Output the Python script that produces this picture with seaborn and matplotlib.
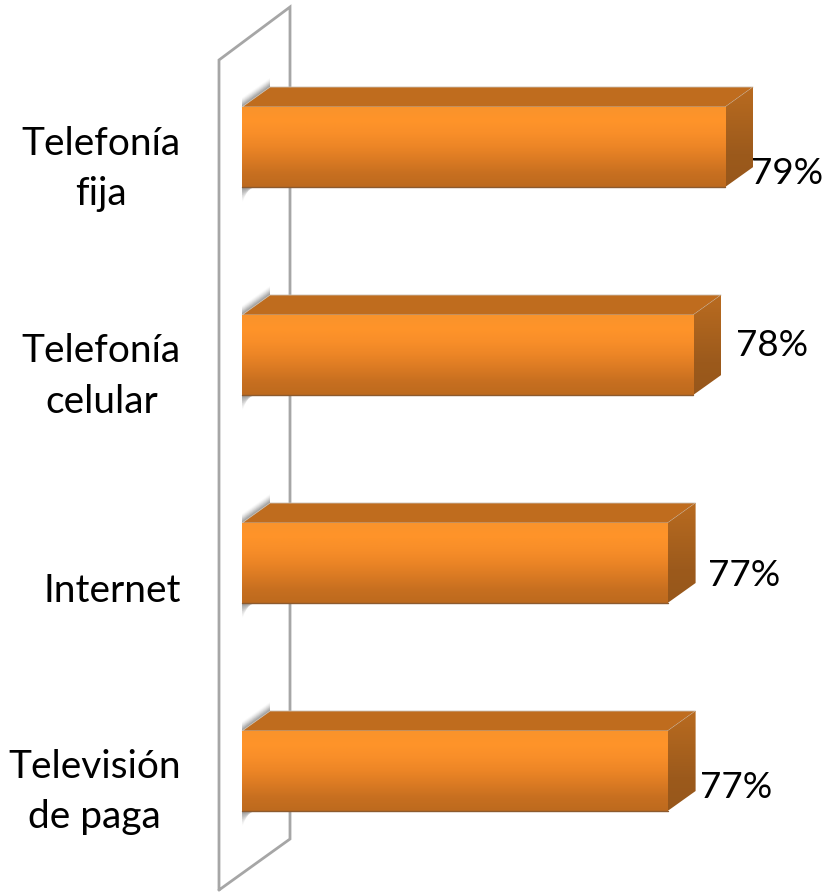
import numpy as np
import pandas as pd
import matplotlib
matplotlib.use("Agg")
import matplotlib.pyplot as plt
import seaborn as sns
from matplotlib.colors import LinearSegmentedColormap
from matplotlib.lines import Line2D
from matplotlib.patches import Polygon
from matplotlib.transforms import Affine2D

categories = ["Telefonía\nfija", "Telefonía\ncelular", "Internet", "Televisión\nde paga"]
values = [79.0, 78.0, 77.2, 77.2]
value_labels = ["79%", "78%", "77%", "77%"]

W, H = 825, 892
sns.set_theme(style="white")
plt.rcParams["font.family"] = ["Lato", "DejaVu Sans"]

fig = plt.figure(figsize=(W / 100, H / 100), dpi=100, facecolor="white")
ax = fig.add_axes([242 / W, 0, (W - 242) / W, 1], facecolor="none", zorder=2)

df = pd.DataFrame({"servicio": categories, "valor": values})
sns.barplot(data=df, x="valor", y="servicio", order=categories, orient="h",
            width=80 / 208, color="#F48A28", saturation=1, linewidth=0, ax=ax)

PX_X = 32.0            # pixels per percentage point
PX_Y = 208.0           # pixels per category step
XMIN = 63.9
ax.set_xlim(XMIN, XMIN + (W - 242) / PX_X)
ax.set_ylim((H - 147) / PX_Y, -147 / PX_Y)
dx, dy = 28 / PX_X, 20 / PX_Y   # 3D depth in data units
px, py = 1 / PX_X, 1 / PX_Y

sns.despine(ax=ax, left=True, bottom=True)
ax.set_xlabel("")
ax.set_ylabel("")
ax.set_xticks([])
tick_shift = [11.5, 11, 24, 10]
ax.set_yticks(np.arange(len(categories)) + np.array(tick_shift) / PX_Y)
ax.set_yticklabels(categories, fontsize=28, color="black", linespacing=1.5,
                   multialignment="center")
ax.tick_params(axis="y", length=0, pad=61 * 0.72)

# back plane of the 3D axis, in figure pixels
to_fig = Affine2D().scale(1 / W, -1 / H).translate(0, 1) + fig.transFigure
fig.add_artist(Line2D([219, 219, 290, 290, 219], [890, 60, 7, 839, 890], color="#A6A6A6",
                      lw=2.0, transform=to_fig, zorder=1, solid_joinstyle="miter"))

front_cmap = LinearSegmentedColormap.from_list(
    "front", ["#F9932C", "#FF9429", "#F88E29", "#EC8526", "#DA7A23", "#C76F20", "#BD6A1E"])
side_cmap = LinearSegmentedColormap.from_list(
    "side", ["#B96B20", "#AB631E", "#9C5A1C", "#97571B"])
grad = np.linspace(0, 1, 256).reshape(-1, 1)
xlim, ylim = ax.get_xlim(), ax.get_ylim()

label_dx = [26, 43, 40, 32]
label_dy = [27, -10, 12, 17]

for i, bar in enumerate(list(ax.patches)):
    top, bottom = bar.get_y(), bar.get_y() + bar.get_height()
    right = bar.get_x() + bar.get_width()
    left = XMIN

    # soft shadow on the plane
    for k in range(1, 10):
        a = 0.16
        ax.add_patch(Polygon([(left, top), (left + dx, top - dy), (left + dx, top - dy - k * py),
                              (left, top - k * py)], closed=True, fc="#555555", ec="none",
                             alpha=a * (1 - k / 11), zorder=1.2, clip_on=False))
        ax.add_patch(Polygon([(left, bottom), (left + (16 - k) * px, bottom),
                              (left + (2 - k / 8) * px, bottom + k * 1.6 * py), (left, bottom + k * 1.6 * py)],
                             closed=True, fc="#555555", ec="none",
                             alpha=a * (1 - k / 11), zorder=1.2, clip_on=False))

    # top face
    ax.add_patch(Polygon([(left, top), (left + dx, top - dy), (right + dx, top - dy), (right, top)],
                         closed=True, fc="#BF6C1E", ec="#C9C0B5", lw=0.6, zorder=2.5, clip_on=False))
    # side face
    side = Polygon([(right, top), (right + dx, top - dy), (right + dx, bottom - dy), (right, bottom)],
                   closed=True, fc="none", ec="none", zorder=2.5, clip_on=False)
    ax.add_patch(side)
    im = ax.imshow(grad, cmap=side_cmap, aspect="auto", zorder=2.6,
                   extent=(right, right + dx, bottom, top - dy))
    im.set_clip_path(side)

    # front face
    bar.set_zorder(2.7)
    im = ax.imshow(grad, cmap=front_cmap, aspect="auto", zorder=2.8,
                   extent=(left, right, bottom, top))
    im.set_clip_path(bar)
    ax.plot([left, right], [bottom, bottom], color="#8C5A2E", lw=1.0, zorder=2.9, clip_on=False)

    ax.annotate(value_labels[i], xy=(right, (top + bottom) / 2),
                xytext=(label_dx[i] * 0.72, -label_dy[i] * 0.72), textcoords="offset points",
                ha="left", va="center", fontsize=26.5, color="black", zorder=4)

ax.set_xlim(xlim)
ax.set_ylim(ylim)
fig.savefig("out.png", dpi=100, facecolor="white")
